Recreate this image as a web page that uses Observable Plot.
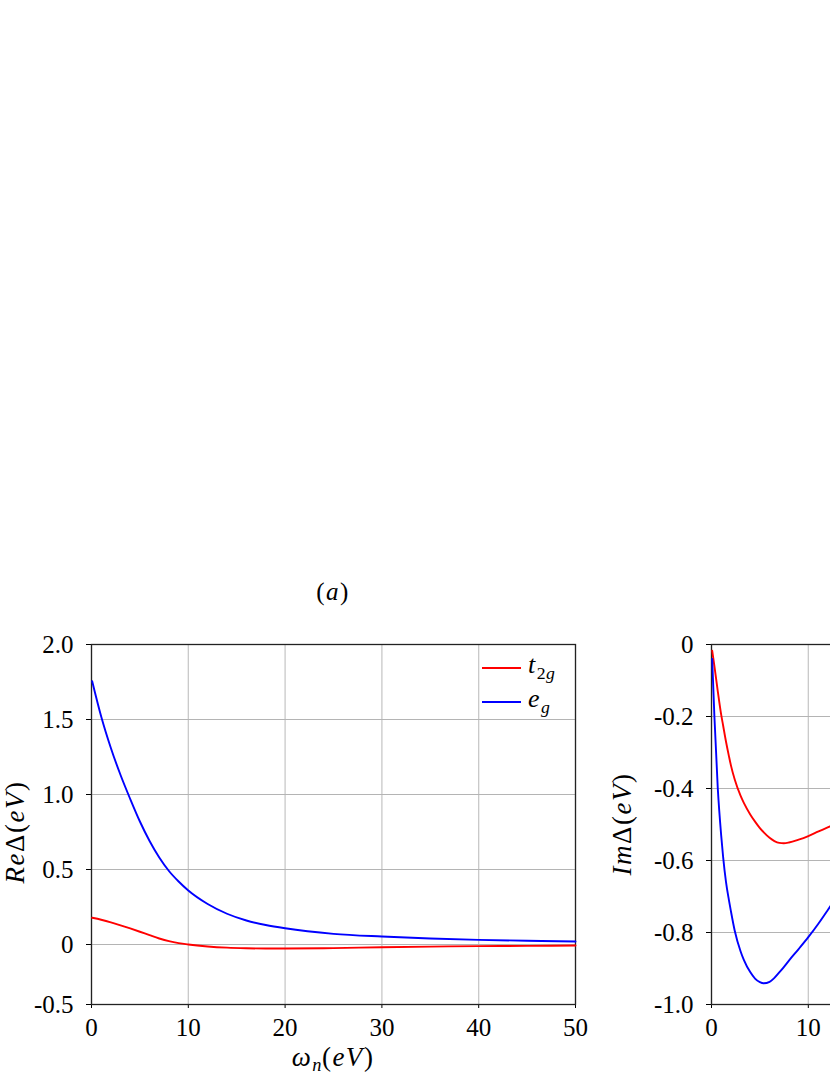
<!DOCTYPE html>
<html>
<head>
<meta charset="utf-8">
<script src="https://cdn.jsdelivr.net/npm/d3@7"></script>
<script src="https://cdn.jsdelivr.net/npm/@observablehq/plot@0.6"></script>
<style>
  html, body { margin: 0; padding: 0; background: #fff; }
  #wrap { position: relative; width: 830px; height: 1075px; overflow: hidden; background: #fff;
          font-family: "Liberation Serif", "DejaVu Serif", serif; color: #000; }
  .abs { position: absolute; white-space: nowrap; }
  .lbl { font-size: 27px; line-height: 1; letter-spacing: 1.5px; }
  .lbl i { font-style: italic; }
  sub { font-size: 0.68em; vertical-align: -0.3em; line-height: 0; letter-spacing: 0.5px; }
  .leg-line { position: absolute; height: 0; width: 39px; border-top: 2px solid; }
</style>
</head>
<body>
<div id="wrap"></div>
<script>
// ---------- data ----------
const series = ["t2g", "eg"];
const seriesColors = ["#ff0000", "#0000ff"];

// Left panel: Re Delta
const reX      = [0.07, 1, 2, 3, 4, 5, 6, 7, 8, 9, 10, 12, 14, 16, 18, 20, 25, 30, 35, 40, 45, 50];
const reT2g    = [0.178, 0.165, 0.148, 0.128, 0.107, 0.085, 0.062, 0.04, 0.022, 0.009, 0.0, -0.013, -0.021, -0.025, -0.027, -0.027, -0.024, -0.018, -0.014, -0.011, -0.009, -0.007];
const reEg     = [1.755, 1.52, 1.31, 1.13, 0.97, 0.82, 0.69, 0.58, 0.49, 0.42, 0.36, 0.27, 0.205, 0.16, 0.13, 0.108, 0.071, 0.053, 0.04, 0.031, 0.025, 0.02];

// Right panel: Im Delta (visible part, x up to ~12.5)
const imX      = [0.07, 0.3, 0.65, 1, 1.2, 1.5, 1.8, 2, 2.4, 3, 3.34, 4, 4.5, 5, 5.4, 6, 6.5, 7, 7.47, 8, 9, 10, 11, 12, 12.5];
const imT2g    = [-0.017, -0.06, -0.13, -0.195, -0.225, -0.27, -0.31, -0.335, -0.375, -0.42, -0.44, -0.472, -0.492, -0.51, -0.522, -0.537, -0.546, -0.551, -0.552, -0.55, -0.542, -0.532, -0.52, -0.508, -0.502];
const imEg     = [-0.04, -0.2, -0.4, -0.53, -0.59, -0.66, -0.71, -0.74, -0.795, -0.852, -0.876, -0.91, -0.928, -0.938, -0.941, -0.937, -0.926, -0.911, -0.896, -0.878, -0.846, -0.813, -0.777, -0.738, -0.718];

// Ticks
const xTicks        = [0, 10, 20, 30, 40, 50];
const xTickLabels   = ["0", "10", "20", "30", "40", "50"];
const imXTicks      = [0, 10];            // the only x ticks of the right panel inside the picture
const imXTickLabels = ["0", "10"];
const reYTicks      = [-0.4, 0, 0.5, 1, 1.5, 2];
const reYTickLabels = ["-0.5", "0", "0.5", "1.0", "1.5", "2.0"];
const imYTicks      = [-1, -0.8, -0.6, -0.4, -0.2, 0];
const imYTickLabels = ["-1.0", "-0.8", "-0.6", "-0.4", "-0.2", "0"];

// ---------- helpers ----------
function toRows(xs, ys, s) { return xs.map((x, i) => ({x, y: ys[i], s})); }
function fmtFrom(vals, labs) { const m = new Map(vals.map((v, i) => [v, labs[i]])); return d => m.get(d) ?? ""; }

function panel(rows, yDomain, xt, xl, yTicks, yLabels) {
  const svg = Plot.plot({
    width: 585, height: 475,
    marginLeft: 91, marginRight: 10, marginTop: 44, marginBottom: 71,
    style: {fontFamily: '"Liberation Serif", "DejaVu Serif", serif', fontSize: "25px", color: "#000", background: "transparent", overflow: "visible"},
    x: {domain: [0, 50], label: null},
    y: {domain: yDomain, label: null},
    color: {domain: series, range: seriesColors},
    marks: [
      Plot.gridX(xTicks, {stroke: "#c4c4c4", strokeOpacity: 1, strokeWidth: 1.2}),
      Plot.gridY(yTicks, {stroke: "#b4b4b4", strokeOpacity: 1, strokeWidth: 1.2}),
      Plot.axisX(xt, {tickFormat: fmtFrom(xt, xl), tickSize: 4, tickPadding: 10, fontSize: 25, label: null}),
      Plot.axisY(yTicks, {tickFormat: fmtFrom(yTicks, yLabels), tickSize: 5, tickPadding: 13, fontSize: 25, label: null}),
      Plot.frame({stroke: "#222", strokeWidth: 1.3}),
      Plot.axisY(yTicks, {tickSize: 0, text: null, stroke: "#777", strokeWidth: 2.2, label: null}),
      Plot.line(rows, {x: "x", y: "y", z: "s", stroke: "s", strokeWidth: 1.9, curve: "monotone-x"})
    ]
  });
  d3.select(svg).selectAll("text").style("font-size", "25px").style("font-family", '"Liberation Serif", serif');
  return svg;
}

const wrap = document.getElementById("wrap");

// Left panel
const leftRows = [...toRows(reX, reT2g, "t2g"), ...toRows(reX, reEg, "eg")];
const left = panel(leftRows, [-0.4, 2], xTicks, xTickLabels, reYTicks, reYTickLabels);
left.style.position = "absolute"; left.style.left = "0px"; left.style.top = "600px";
wrap.appendChild(left);

// Right panel
const rightRows = [...toRows(imX, imT2g, "t2g"), ...toRows(imX, imEg, "eg")];
const right = panel(rightRows, [-1, 0], imXTicks, imXTickLabels, imYTicks, imYTickLabels);
right.style.position = "absolute"; right.style.left = "620px"; right.style.top = "600px";
wrap.appendChild(right);

// Text labels (HTML, real text)
function addHTML(html, css) {
  const d = document.createElement("div");
  d.className = "abs lbl";
  d.innerHTML = html;
  Object.assign(d.style, css);
  wrap.appendChild(d);
  return d;
}
// panel tag
addHTML("(<i>a</i>)", {left: "333px", top: "591px", transform: "translate(-50%,-50%)", fontSize: "25px"});
// x label
addHTML("<i>ω</i><sub><i>n</i></sub>(<i>eV</i>)", {left: "333px", top: "1057px", transform: "translate(-50%,-50%)"});
// y labels (rotated)
addHTML("<i>Re</i>Δ(<i>eV</i>)", {left: "15px", top: "832px", transform: "translate(-50%,-50%) rotate(-90deg)"});
addHTML("<i>Im</i>Δ(<i>eV</i>)", {left: "622px", top: "824px", transform: "translate(-50%,-50%) rotate(-90deg)"});

// Legend (left panel, upper right)
const legendNames = ["<i>t</i><sub>2<i>g</i></sub>", "<i>e</i><sub><i>g</i></sub>"];
const legendTops = [668, 702];
series.forEach((s, i) => {
  const ln = document.createElement("div");
  ln.className = "leg-line";
  Object.assign(ln.style, {left: "482px", top: (legendTops[i] - 1) + "px", borderTopColor: seriesColors[i]});
  wrap.appendChild(ln);
  addHTML(legendNames[i], {left: "528px", top: legendTops[i] + "px", transform: "translateY(-60%)", fontSize: "26px"});
});
</script>
</body>
</html>
